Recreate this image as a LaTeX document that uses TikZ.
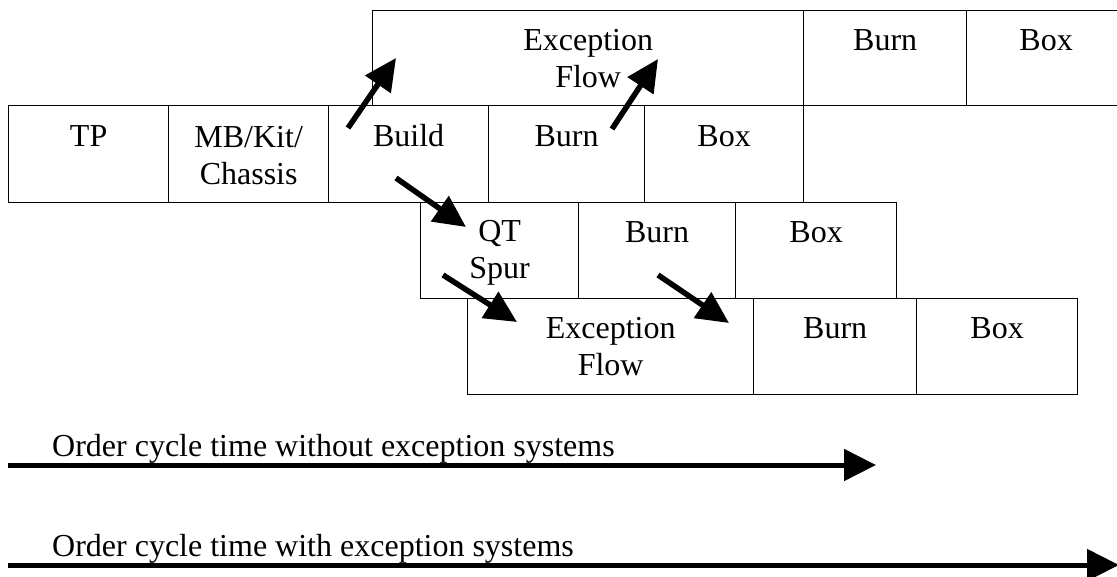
\documentclass[tikz,border=0pt]{standalone}
\usepackage{fontspec}
\setmainfont{Liberation Serif}
\usetikzlibrary{arrows.meta}
\tikzset{
  cell/.style={draw, line width=1.3pt, inner sep=0pt, anchor=north west},
  lbl/.style={font=\fontsize{32}{37}\selectfont, inner sep=0pt, align=center, anchor=base},
  flowarrow/.style={line width=5.5pt, -{Triangle[length=32pt,width=30pt]}},
  timearrow/.style={line width=5pt, -{Triangle[length=32pt,width=31pt]}},
}
\newcommand\cellat[5]{\node[cell, minimum width=#4pt, minimum height=#5pt] (#1) at (#2,#3) {};}
\begin{document}
\begin{tikzpicture}[x=1pt,y=-1pt]
\useasboundingbox (0,0) rectangle (1117,577);
% row 1
\cellat{exa}{372}{10}{431}{95}
\cellat{burna}{803}{10}{163}{95}
\cellat{boxa}{966}{10}{159}{95}
% row 2
\cellat{tp}{8}{105}{160}{97}
\cellat{mb}{168}{105}{160}{97}
\cellat{build}{328}{105}{160}{97}
\cellat{burnb}{488}{105}{156}{97}
\cellat{boxb}{644}{105}{159}{97}
% row 3
\cellat{qt}{420}{202}{158}{96}
\cellat{burnc}{578}{202}{157}{96}
\cellat{boxc}{735}{202}{161}{96}
% row 4
\cellat{exd}{467}{298}{286}{96}
\cellat{burnd}{753}{298}{163}{96}
\cellat{boxd}{916}{298}{161}{96}
% labels (two-line labels are anchored on the baseline of their last line)
\node[lbl] (exaT) at (exa.north |- 0,88) {Exception\\Flow};
\node[lbl] (burnaT) at (burna.north |- 0,51) {Burn};
\node[lbl] (boxaT) at (boxa.north |- 0,51) {Box};
\node[lbl] (tpT) at (tp.north |- 0,147) {TP};
\node[lbl] (mbT) at (mb.north |- 0,185) {MB/Kit/\\Chassis};
\node[lbl] (buildT) at (build.north |- 0,147) {Build};
\node[lbl] (burnbT) at (burnb.north |- 0,147) {Burn};
\node[lbl] (boxbT) at (boxb.north |- 0,147) {Box};
\node[lbl] (qtT) at (qt.north |- 0,279) {QT\\Spur};
\node[lbl] (burncT) at (burnc.north |- 0,243) {Burn};
\node[lbl] (boxcT) at (boxc.north |- 0,243) {Box};
\node[lbl] (exdT) at (exd.north |- 0,376) {Exception\\Flow};
\node[lbl] (burndT) at (burnd.north |- 0,339) {Burn};
\node[lbl] (boxdT) at (boxd.north |- 0,339) {Box};
% flow arrows
\coordinate (a1s) at (348,128); \coordinate (a1e) at (396,58);
\coordinate (a2s) at (612,129); \coordinate (a2e) at (658,59);
\coordinate (a3s) at (396,178); \coordinate (a3e) at (466,227);
\coordinate (a4s) at (443,275); \coordinate (a4e) at (517,322);
\coordinate (a5s) at (658,275); \coordinate (a5e) at (729,323);
\draw[flowarrow] (a1s) -- (a1e);
\draw[flowarrow] (a2s) -- (a2e);
\draw[flowarrow] (a3s) -- (a3e);
\draw[flowarrow] (a4s) -- (a4e);
\draw[flowarrow] (a5s) -- (a5e);
% time arrows
\node[lbl, anchor=base west] (t1T) at (52,456) {Order cycle time without exception systems};
\node[lbl, anchor=base west] (t2T) at (52,556) {Order cycle time with exception systems};
\coordinate (t1s) at (8,465); \coordinate (t1e) at (876,465);
\coordinate (t2s) at (8,565); \coordinate (t2e) at (1119,565);
\draw[timearrow] (t1s) -- (t1e);
\draw[timearrow] (t2s) -- (t2e);
\end{tikzpicture}
\end{document}
